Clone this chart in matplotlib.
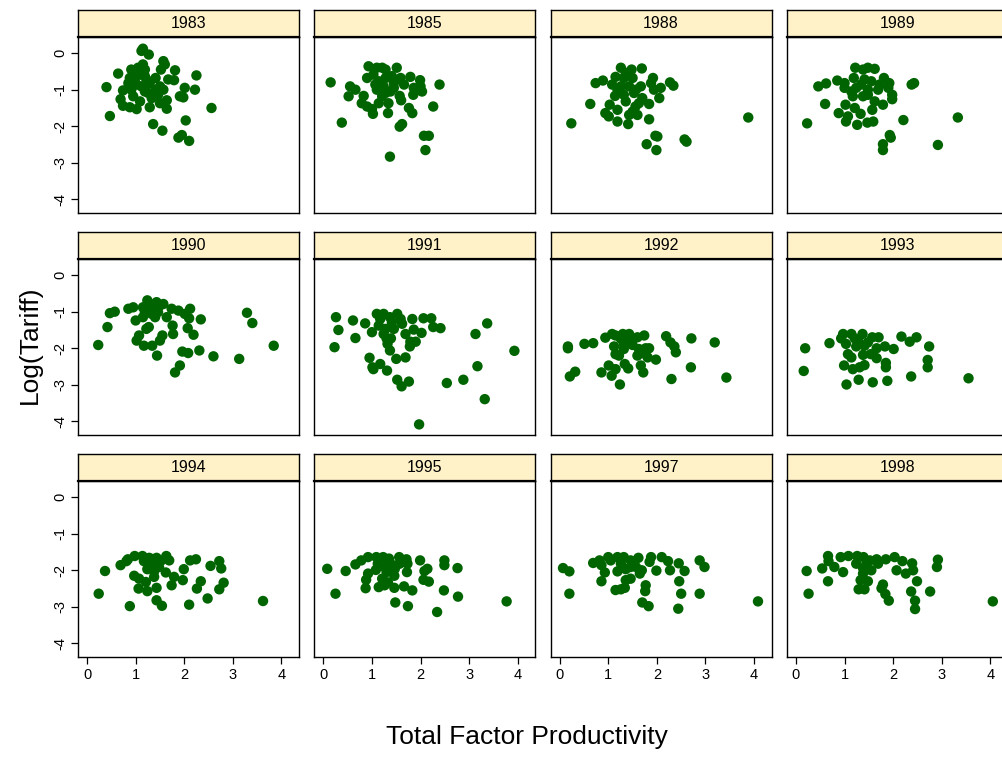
import matplotlib
matplotlib.use("Agg")
import matplotlib.pyplot as plt

plt.rcParams['font.family'] = ['Liberation Sans', 'DejaVu Sans']

years = ["1983", "1985", "1988", "1989", "1990", "1991",
         "1992", "1993", "1994", "1995", "1997", "1998"]

tfp_1983 = [1.15, 1.12, 1.27, 1.57, 1.60, 0.64, 1.52, 1.81, 2.25, 0.40, 0.91, 1.05, 1.15, 0.88,
            1.19, 1.41, 1.67, 1.79, 2.01, 2.22, 0.74, 0.91, 1.12, 1.41, 1.57, 0.95, 1.26, 1.46,
            1.91, 1.98, 0.69, 1.64, 0.74, 0.88, 1.02, 1.29, 1.50, 1.64, 2.56, 0.47, 2.03, 1.36,
            1.55, 1.88, 1.95, 2.10, 0.98, 1.09, 1.22, 1.29, 1.02, 1.19, 1.33, 1.09, 0.85, 1.50,
            1.19, 0.95]
tariff_1983 = [0.12, 0.06, -0.04, -0.22, -0.31, -0.56, -0.45, -0.47, -0.61, -0.93, -0.45, -0.40,
               -0.31, -0.68, -0.63, -0.68, -0.72, -0.74, -0.95, -1.00, -1.02, -1.00, -0.91, -1.00,
               -1.00, -1.18, -1.09, -1.14, -1.18, -1.21, -1.26, -1.29, -1.44, -1.48, -1.53, -1.48,
               -1.37, -1.52, -1.50, -1.72, -1.84, -1.94, -2.12, -2.31, -2.24, -2.40, -0.72, -0.59,
               -0.72, -0.82, -0.86, -1.05, -1.23, -1.32, -0.82, -0.91, -0.45, -0.54]

tfp_1985 = [0.15, 0.93, 1.10, 1.21, 1.51, 1.28, 0.55, 0.66, 0.52, 0.90, 1.03, 1.14, 1.28, 1.41,
            1.59, 1.79, 1.99, 2.00, 2.03, 2.39, 1.86, 1.85, 1.66, 0.83, 1.10, 1.24, 1.38, 1.57,
            1.60, 0.79, 0.90, 1.02, 1.00, 1.14, 1.34, 1.33, 1.76, 1.83, 2.26, 0.38, 1.57, 1.62,
            2.07, 2.17, 2.10, 1.37, 1.17, 1.28, 1.45, 1.07, 1.21, 1.45]
tariff_1985 = [-0.80, -0.36, -0.40, -0.40, -0.40, -0.45, -0.91, -1.00, -1.18, -0.68, -0.59, -0.77,
               -0.68, -0.63, -0.68, -0.65, -0.74, -0.91, -1.05, -0.86, -0.95, -1.14, -0.86, -1.17,
               -1.00, -0.91, -1.05, -1.17, -1.29, -1.37, -1.46, -1.66, -1.53, -1.37, -1.37, -1.64,
               -1.50, -1.64, -1.46, -1.90, -2.01, -1.94, -2.26, -2.26, -2.65, -2.83, -0.82, -1.09,
               -0.82, -0.86, -1.18, -0.95]

tfp_1988 = [1.26, 1.48, 1.69, 0.74, 0.89, 1.15, 1.32, 1.50, 1.92, 2.27, 2.34, 1.08, 1.26, 1.43,
            1.67, 1.88, 2.08, 1.94, 2.05, 1.14, 1.32, 1.53, 1.36, 1.70, 1.84, 0.63, 1.03, 1.19,
            0.94, 1.01, 1.56, 1.50, 1.43, 1.60, 1.19, 1.41, 1.84, 0.24, 3.88, 1.97, 2.01, 1.79,
            1.99, 2.57, 2.61, 1.36, 1.19, 1.57, 1.63]
tariff_1988 = [-0.40, -0.45, -0.42, -0.82, -0.75, -0.65, -0.68, -0.68, -0.68, -0.80, -0.89, -0.86,
               -0.91, -0.91, -0.91, -0.82, -0.95, -1.00, -1.23, -1.17, -1.14, -1.09, -1.32, -1.23,
               -1.39, -1.39, -1.41, -1.55, -1.64, -1.73, -1.46, -1.60, -1.69, -1.69, -1.87, -1.94,
               -1.81, -1.92, -1.76, -2.26, -2.28, -2.49, -2.65, -2.36, -2.42, -0.54, -1.00, -1.00,
               -1.37]

tfp_1989 = [1.22, 1.38, 1.48, 1.62, 0.46, 0.62, 0.85, 1.00, 1.00, 1.19, 1.41, 1.81, 1.92, 1.90,
            2.38, 2.43, 1.24, 1.48, 1.69, 1.98, 1.98, 1.17, 1.38, 1.62, 1.79, 0.60, 1.02, 1.21,
            1.57, 0.88, 1.07, 1.33, 1.03, 1.26, 1.47, 1.59, 2.21, 0.23, 3.33, 1.93, 1.95, 1.79,
            1.79, 2.92, 1.34, 1.48, 1.14, 1.55, 1.72]
tariff_1989 = [-0.40, -0.45, -0.40, -0.43, -0.91, -0.83, -0.75, -0.82, -0.95, -0.68, -0.72, -0.68,
               -0.82, -0.95, -0.86, -0.82, -0.95, -1.00, -1.00, -1.14, -1.26, -1.18, -1.18, -1.32,
               -1.41, -1.39, -1.41, -1.50, -1.55, -1.64, -1.73, -1.66, -1.87, -1.96, -1.90, -1.87,
               -1.83, -1.92, -1.76, -2.24, -2.31, -2.49, -2.65, -2.51, -0.86, -1.14, -1.05, -0.77,
               -0.86]

tfp_1990 = [0.23, 0.42, 0.47, 0.57, 0.85, 0.95, 1.00, 1.15, 1.24, 1.26, 1.43, 1.57, 1.74, 1.88,
            2.12, 2.01, 2.10, 2.34, 1.15, 1.33, 1.46, 1.64, 1.22, 1.27, 1.76, 1.77, 2.07, 2.19,
            1.07, 1.02, 1.17, 1.34, 1.50, 1.55, 1.44, 1.96, 2.08, 2.31, 2.60, 3.13, 3.29, 3.40,
            3.84, 1.91, 1.81, 1.36, 1.50, 1.19, 1.40]
tariff_1990 = [-1.91, -1.42, -1.04, -1.00, -0.92, -0.88, -1.24, -0.88, -0.69, -0.83, -0.74, -0.79,
               -0.92, -0.97, -0.92, -1.06, -1.18, -1.21, -1.15, -1.06, -1.01, -1.15, -1.47, -1.42,
               -1.38, -1.61, -1.45, -1.63, -1.65, -1.79, -1.93, -1.93, -1.79, -1.65, -2.20, -2.09,
               -2.13, -2.06, -2.22, -2.29, -1.03, -1.31, -1.93, -2.47, -2.66, -0.88, -0.83, -1.01,
               -1.15]

tfp_1991 = [0.26, 0.31, 0.23, 0.61, 0.66, 0.86, 1.00, 1.10, 1.24, 1.52, 1.59, 1.37, 1.83, 2.06,
            2.22, 2.26, 2.41, 2.02, 1.86, 1.69, 1.14, 1.28, 1.45, 1.30, 1.39, 1.32, 1.37, 1.79,
            1.90, 1.78, 0.95, 1.01, 1.03, 1.17, 1.31, 1.50, 1.69, 1.52, 1.61, 1.76, 2.54, 2.88,
            3.17, 3.13, 3.37, 3.93, 3.32, 1.97, 1.17, 1.41, 1.62, 1.24]
tariff_1991 = [-1.15, -1.50, -1.97, -1.24, -1.72, -1.32, -1.56, -1.06, -1.06, -1.06, -1.20, -1.15,
               -1.20, -1.18, -1.18, -1.42, -1.45, -1.58, -1.49, -1.61, -1.38, -1.47, -1.47, -1.73,
               -1.73, -1.88, -2.06, -1.82, -1.82, -1.95, -2.26, -2.52, -2.57, -2.43, -2.61, -2.29,
               -2.25, -2.86, -3.04, -2.91, -2.95, -2.86, -2.49, -1.61, -1.32, -2.07, -3.39, -4.08,
               -1.20, -1.29, -1.33, -1.61]

tfp_1992 = [0.17, 0.17, 0.21, 0.32, 0.51, 0.69, 0.86, 0.94, 1.08, 1.15, 1.30, 1.43, 1.60, 1.74,
            2.19, 2.28, 2.36, 2.39, 2.71, 3.19, 1.12, 1.32, 1.50, 1.63, 1.77, 1.84, 1.15, 1.22,
            1.60, 1.70, 1.81, 1.98, 1.01, 1.15, 1.07, 1.34, 1.41, 1.67, 1.72, 1.24, 2.30, 2.70,
            3.43, 1.26, 1.43, 1.32]
tariff_1992 = [-1.95, -2.00, -2.77, -2.64, -1.88, -1.86, -2.66, -1.71, -1.61, -1.65, -1.61, -1.61,
               -1.70, -1.65, -1.67, -1.84, -1.95, -2.11, -1.73, -1.84, -1.95, -1.88, -1.91, -2.02,
               -2.00, -2.00, -2.16, -2.20, -2.20, -2.13, -2.25, -2.31, -2.47, -2.57, -2.75, -2.43,
               -2.55, -2.47, -2.66, -2.99, -2.84, -2.52, -2.80, -1.74, -1.79, -2.02]

tfp_1993 = [0.19, 0.16, 0.69, 0.97, 0.93, 1.14, 1.21, 1.37, 1.57, 1.70, 2.17, 2.34, 2.48, 2.74,
            1.03, 1.24, 1.41, 1.66, 1.83, 2.01, 1.07, 1.14, 1.38, 1.54, 1.66, 1.85, 1.85, 0.99,
            1.17, 1.31, 1.41, 2.71, 2.71, 1.29, 1.04, 1.58, 1.88, 2.37, 3.55, 1.28, 1.48]
tariff_1993 = [-2.00, -2.62, -1.86, -1.61, -1.73, -1.61, -1.73, -1.61, -1.70, -1.70, -1.68, -1.82,
               -1.70, -1.95, -1.88, -1.95, -1.93, -2.00, -1.95, -2.02, -2.16, -2.25, -2.18, -2.16,
               -2.27, -2.40, -2.52, -2.47, -2.57, -2.52, -2.46, -2.32, -2.52, -2.86, -2.99, -2.93,
               -2.89, -2.77, -2.82, -1.79, -1.84]

tfp_1994 = [0.37, 0.24, 0.69, 0.81, 0.84, 0.98, 1.14, 1.28, 1.43, 1.63, 1.69, 1.17, 1.34, 1.52,
            2.12, 2.24, 2.54, 2.72, 2.76, 1.24, 1.38, 1.62, 1.79, 1.99, 1.97, 0.97, 1.07, 1.21,
            1.38, 1.74, 2.34, 2.26, 2.81, 2.72, 1.06, 1.24, 1.43, 1.43, 1.54, 0.88, 2.10, 2.48,
            3.62, 1.31, 1.48]
tariff_1994 = [-2.02, -2.64, -1.86, -1.75, -1.70, -1.61, -1.61, -1.66, -1.66, -1.61, -1.73, -1.75,
               -1.85, -1.74, -1.73, -1.70, -1.88, -1.75, -1.95, -1.97, -2.03, -2.06, -2.18, -1.97,
               -2.27, -2.15, -2.23, -2.32, -2.18, -2.41, -2.30, -2.50, -2.34, -2.52, -2.50, -2.57,
               -2.48, -2.82, -2.97, -2.98, -2.94, -2.77, -2.84, -1.91, -1.91]

tfp_1995 = [0.08, 0.25, 0.46, 0.66, 0.78, 0.92, 1.09, 1.23, 1.35, 1.56, 1.71, 1.99, 1.73, 1.12,
            1.26, 1.43, 1.57, 2.49, 2.49, 2.76, 1.08, 0.92, 1.30, 1.47, 1.72, 2.14, 2.08, 0.88,
            1.21, 1.33, 1.46, 2.06, 2.17, 0.87, 1.14, 1.26, 1.46, 1.66, 1.83, 2.48, 2.77, 1.48,
            1.74, 2.34, 3.77, 1.37]
tariff_1995 = [-1.96, -2.64, -2.02, -1.84, -1.73, -1.64, -1.64, -1.64, -1.68, -1.64, -1.70, -1.73,
               -1.82, -1.82, -1.91, -1.86, -1.82, -1.73, -1.86, -1.94, -1.99, -2.09, -2.05, -1.96,
               -2.05, -1.96, -2.02, -2.26, -2.23, -2.33, -2.15, -2.26, -2.31, -2.49, -2.46, -2.41,
               -2.48, -2.44, -2.55, -2.55, -2.72, -2.88, -2.98, -3.14, -2.85, -1.96]

tfp_1997 = [0.07, 0.20, 0.20, 0.69, 0.82, 1.00, 1.05, 1.19, 1.32, 1.46, 1.62, 1.88, 1.85, 2.10,
            2.23, 2.45, 2.88, 2.98, 0.86, 0.93, 1.19, 1.36, 1.57, 1.69, 1.99, 2.27, 2.57, 0.86,
            1.36, 1.46, 1.65, 1.77, 1.76, 2.46, 1.15, 1.26, 1.34, 2.50, 2.88, 1.70, 1.83, 2.44,
            4.08, 1.26, 1.46]
tariff_1997 = [-1.94, -2.03, -2.64, -1.80, -1.73, -1.64, -1.73, -1.64, -1.64, -1.73, -1.66, -1.64,
               -1.77, -1.64, -1.75, -1.81, -1.73, -1.91, -1.86, -2.06, -2.03, -1.97, -1.91, -2.00,
               -2.01, -2.00, -2.02, -2.30, -2.27, -2.23, -2.09, -2.41, -2.57, -2.30, -2.54, -2.52,
               -2.48, -2.64, -2.64, -2.88, -2.98, -3.05, -2.85, -1.82, -1.91]

tfp_1998 = [0.22, 0.26, 0.54, 0.66, 0.67, 0.79, 0.97, 0.66, 0.92, 1.08, 1.26, 1.39, 1.52, 1.66,
            1.85, 2.03, 2.19, 2.39, 2.92, 2.90, 1.24, 1.38, 1.55, 2.07, 2.26, 2.41, 2.49, 1.33,
            1.48, 1.38, 1.79, 1.29, 1.41, 1.76, 1.84, 1.91, 2.37, 2.76, 2.45, 2.45, 4.05, 1.45,
            1.69]
tariff_1998 = [-2.02, -2.64, -1.95, -1.61, -1.75, -1.91, -2.05, -2.30, -1.64, -1.61, -1.61, -1.64,
               -1.73, -1.70, -1.70, -1.64, -1.75, -1.81, -1.71, -1.91, -1.82, -1.94, -2.00, -2.00,
               -2.09, -2.00, -2.30, -2.27, -2.30, -2.09, -2.39, -2.52, -2.52, -2.49, -2.65, -2.83,
               -2.58, -2.58, -2.83, -3.06, -2.85, -1.82, -1.82]

panel_data = {
    "1983": (tfp_1983, tariff_1983), "1985": (tfp_1985, tariff_1985),
    "1988": (tfp_1988, tariff_1988), "1989": (tfp_1989, tariff_1989),
    "1990": (tfp_1990, tariff_1990), "1991": (tfp_1991, tariff_1991),
    "1992": (tfp_1992, tariff_1992), "1993": (tfp_1993, tariff_1993),
    "1994": (tfp_1994, tariff_1994), "1995": (tfp_1995, tariff_1995),
    "1997": (tfp_1997, tariff_1997), "1998": (tfp_1998, tariff_1998),
}

x_ticks = [0, 1, 2, 3, 4]
y_ticks = [0, -1, -2, -3, -4]
x_limits = (-0.186, 4.36)
y_limits = (-4.37, 0.44)

point_color = "#006400"
strip_color = "#FFF2C8"

W, H = 1003, 758
fig = plt.figure(figsize=(W / 100, H / 100), dpi=100)
fig.patch.set_facecolor("white")

panel_left0, col_step, panel_w = 78, 236.3, 221
panel_top0, row_step, panel_h = 37, 222, 176
strip_h = 27


def box(left, top, width, height):
    return [left / W, 1 - (top + height) / H, width / W, height / H]


for i, year in enumerate(years):
    r, c = divmod(i, 4)
    left = panel_left0 + c * col_step
    top = panel_top0 + r * row_step

    ax = fig.add_axes(box(left, top, panel_w, panel_h))
    xs, ys = panel_data[year]
    ax.scatter(xs, ys, s=56, color=point_color, edgecolors="none", zorder=3)
    ax.set_xlim(*x_limits)
    ax.set_ylim(*y_limits)
    for sp in ax.spines.values():
        sp.set_linewidth(1.0)
        sp.set_color("black")

    ax.set_xticks(x_ticks)
    ax.set_yticks(y_ticks)
    ax.tick_params(direction="out", length=5, width=0.9, labelsize=10.5, pad=3)
    if r == 2:
        ax.set_xticklabels([str(v) for v in x_ticks])
    else:
        ax.tick_params(axis="x", bottom=False, labelbottom=False)
    if c == 0:
        ax.set_yticklabels([str(v) for v in y_ticks], rotation=90, va="center")
    else:
        ax.tick_params(axis="y", left=False, labelleft=False)

    sax = fig.add_axes(box(left, top - strip_h, panel_w, strip_h))
    sax.set_facecolor(strip_color)
    sax.set_xticks([])
    sax.set_yticks([])
    for sp in sax.spines.values():
        sp.set_linewidth(1.0)
        sp.set_color("black")
    sax.spines["bottom"].set_linewidth(1.6)
    sax.text(0.5, 0.5, year, ha="center", va="center", fontsize=11.5, transform=sax.transAxes)

fig.text(527 / W, 1 - 737 / H, "Total Factor Productivity", ha="center", va="center", fontsize=19)
fig.text(30 / W, 1 - 345 / H, "Log(Tariff)", ha="center", va="center", rotation=90, fontsize=19)

fig.savefig("out.png", dpi=100)
